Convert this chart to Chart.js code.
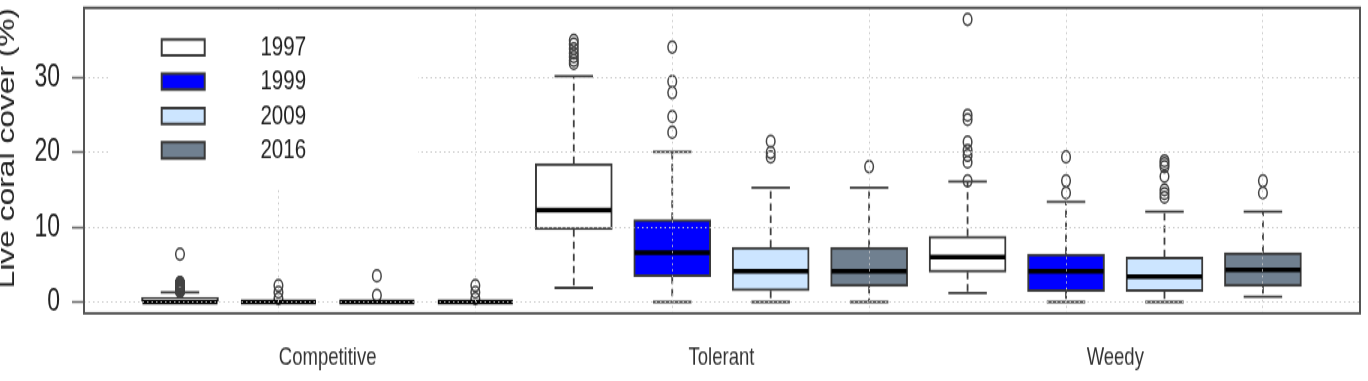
<!DOCTYPE html>
<html><head><meta charset="utf-8">
<script src="https://cdn.jsdelivr.net/npm/chart.js@4.4.1/dist/chart.umd.min.js"></script>
<style>
html,body{margin:0;padding:0;background:#fff;overflow:hidden;width:1368px;height:381px;}
#wrap{width:1368px;height:282px;transform:scaleY(1.35106);transform-origin:0 0;}
canvas{display:block;}
</style></head><body>
<div id="wrap"><canvas id="c" width="1368" height="282"></canvas></div>
<script>
// ---- data (rows = years, columns = categories) ----
const categories = ['Competitive', 'Tolerant', 'Weedy'];
const years = ['1997', '1999', '2009', '2016'];
const yTickValues = [0, 10, 20, 30];
const xGridValues = [2, 4, 6, 8, 10, 12];

const whiskerLow  = [[0, 1.9, 1.2], [0, 0, 0], [0, 0, 0], [0, 0, 0.7]];
const quartile1   = [[0, 9.7, 4.0], [0, 3.4, 1.4], [0, 1.5, 1.4], [0, 2.1, 2.1]];
const medians     = [[0, 12.3, 6.0], [0, 6.6, 4.1], [0, 4.1, 3.4], [0, 4.1, 4.3]];
const quartile3   = [[0.6, 18.5, 8.8], [0, 11.0, 6.4], [0, 7.3, 6.0], [0, 7.3, 6.6]];
const whiskerHigh = [[1.3, 30.2, 16.1], [0, 20.1, 13.4], [0, 15.3, 12.1], [0, 15.3, 12.1]];

const outliers1997 = [
  [1.4, 1.45, 1.5, 1.55, 1.6, 1.65, 1.7, 1.75, 1.8, 1.85, 1.9, 1.95, 2.0, 2.05, 2.1, 2.15, 2.2, 2.25, 2.3, 2.35, 2.4, 2.45, 2.5, 2.55, 2.6, 6.4],
  [35.0, 34.5, 33.9, 33.3, 32.8, 32.3, 31.9],
  [37.8, 25.0, 24.4, 21.4, 20.3, 19.6, 18.7, 16.2]
];
const outliers1999 = [[0.45, 1.3, 2.2], [34.1, 29.5, 28.0, 24.8, 22.7], [19.4, 16.2, 14.6]];
const outliers2009 = [[0.9, 3.5], [21.5, 20.0, 19.4], [18.9, 18.5, 18.1, 16.8, 15.0, 14.5, 14.0]];
const outliers2016 = [[0.45, 1.3, 2.2], [18.1], [16.2, 14.6]];
const outliers = [outliers1997, outliers1999, outliers2009, outliers2016];

// ---- styles ----
const fillColors = ['#ffffff', '#0000ff', '#cce5ff', '#708090'];
const FONT = "'Liberation Sans', Arial, Helvetica, sans-serif";

const pos = (catIdx, yearIdx) => catIdx * years.length + yearIdx + 1;
const catCenter = (catIdx) => catIdx * years.length + (years.length + 1) / 2;

const boxDatasets = years.map((yr, j) => ({
  type: 'bar',
  label: yr,
  data: categories.map((c, i) => ({ x: pos(i, j), y: [quartile1[j][i], quartile3[j][i]] })),
  backgroundColor: fillColors[j],
  borderColor: '#3a3a3a',
  borderWidth: 2,
  borderSkipped: false,
  barThickness: 77,
  grouped: false,
  order: 2
}));

const outlierDatasets = years.map((yr, j) => ({
  type: 'scatter',
  label: yr + ' outliers',
  data: outliers[j].flatMap((arr, i) => arr.map(v => ({ x: pos(i, j), y: v }))),
  pointRadius: 4.3,
  pointBorderWidth: 1.5,
  pointBorderColor: '#444',
  pointBackgroundColor: 'rgba(0,0,0,0)',
  showLine: false,
  order: 1
}));

const boxExtras = {
  id: 'boxExtras',
  afterDatasetsDraw(chart) {
    const { ctx, scales: { y } } = chart;
    const line = (x1, y1, x2, y2) => { ctx.beginPath(); ctx.moveTo(x1, y1); ctx.lineTo(x2, y2); ctx.stroke(); };
    ctx.save();
    years.forEach((yr, j) => {
      const meta = chart.getDatasetMeta(j);
      categories.forEach((c, i) => {
        const el = meta.data[i];
        const px = el.x, w = el.width, cap = w / 2;
        const yQ1 = y.getPixelForValue(quartile1[j][i]);
        const yQ3 = y.getPixelForValue(quartile3[j][i]);
        const yLo = y.getPixelForValue(whiskerLow[j][i]);
        const yHi = y.getPixelForValue(whiskerHigh[j][i]);
        const yMed = y.getPixelForValue(medians[j][i]);
        ctx.strokeStyle = '#404040';
        ctx.lineWidth = 1.8;
        ctx.setLineDash([5.5, 3.5]);
        if (yHi < yQ3) line(px, yQ3, px, yHi);
        if (yLo > yQ1) line(px, yQ1, px, yLo);
        ctx.setLineDash([]);
        ctx.lineWidth = 1.8;
        line(px - cap / 2, yHi, px + cap / 2, yHi);
        line(px - cap / 2, yLo, px + cap / 2, yLo);
        ctx.strokeStyle = '#000';
        ctx.lineWidth = 3.5;
        line(px - w / 2 + 1, yMed, px + w / 2 - 1, yMed);
      });
    });
    ctx.restore();
  }
};

const frameAndLegend = {
  id: 'frameAndLegend',
  beforeDraw(chart) {
    const lg = chart.legend;
    lg.left = 156.8; lg.right = 351.6; lg.top = 19.9; lg.bottom = 140;
  },
  afterDraw(chart) {
    const { ctx, chartArea: a } = chart;
    ctx.save();
    ctx.fillStyle = '#ffffff';
    ctx.fillRect(110, a.top + 1, 308, 138.4 - a.top);
    ctx.restore();
    chart.legend.draw();
    ctx.save();
    ctx.strokeStyle = '#555';
    ctx.lineWidth = 2;
    ctx.strokeRect(a.left, a.top, a.right - a.left, a.bottom - a.top);
    ctx.restore();
  }
};

const noPad = (s) => { s.paddingTop = 0; s.paddingBottom = 0; s.paddingLeft = 0; s.paddingRight = 0; };

new Chart(document.getElementById('c'), {
  type: 'bar',
  data: { datasets: [...boxDatasets, ...outlierDatasets] },
  options: {
    responsive: false,
    animation: false,
    events: [],
    devicePixelRatio: 1,
    layout: { padding: { top: 4.44, right: 8, left: 0, bottom: 0 } },
    plugins: {
      tooltip: { enabled: false },
      legend: {
        position: 'chartArea',
        align: 'start',
        labels: {
          boxWidth: 43,
          boxHeight: 11.8,
          padding: 4.9,
          textAlign: 'center',
          color: '#222',
          font: { family: FONT, size: 20.5 },
          filter: (item) => item.datasetIndex < years.length
        }
      }
    },
    scales: {
      x: {
        type: 'linear',
        min: 0.025,
        max: 12.986,
        offset: false,
        afterBuildTicks: (s) => { s.ticks = [...xGridValues, ...categories.map((c, i) => catCenter(i))].sort((a, b) => a - b).map(v => ({ value: v })); },
        afterFit: (s) => { s.height = 50.1; noPad(s); },
        ticks: {
          autoSkip: false,
          maxRotation: 0,
          minRotation: 0,
          padding: 22,
          color: '#333',
          font: { family: FONT, size: 18.5 },
          callback: (v) => { const i = categories.findIndex((c, k) => catCenter(k) === v); return i >= 0 ? categories[i] : ''; }
        },
        grid: {
          offset: false,
          drawTicks: false,
          z: 1,
          color: (ctx) => (ctx.tick && xGridValues.includes(ctx.tick.value)) ? '#c8c8c8' : 'rgba(0,0,0,0)',
          lineWidth: (ctx) => (ctx.tick && xGridValues.includes(ctx.tick.value)) ? 1 : 0
        },
        border: { display: false, dash: [1.5, 3] }
      },
      y: {
        type: 'linear',
        min: -1.52,
        max: 39.35,
        afterBuildTicks: (s) => { s.ticks = yTickValues.map(v => ({ value: v })); },
        afterFit: (s) => { s.width = 84; noPad(s); },
        ticks: {
          padding: 12,
          color: '#222',
          font: { family: FONT, size: 23 }
        },
        grid: {
          z: 1,
          color: '#c8c8c8',
          lineWidth: 1,
          tickLength: 12,
          tickColor: '#666',
          tickWidth: 1.6,
          tickBorderDash: []
        },
        border: { display: false, dash: [1.5, 3] },
        title: {
          display: true,
          text: 'Live coral cover (%)',
          align: 'end',
          color: '#222',
          font: { family: FONT, size: 23.5 },
          padding: { top: -7, bottom: 0 }
        }
      }
    }
  },
  plugins: [boxExtras, frameAndLegend]
});
</script>
</body></html>
